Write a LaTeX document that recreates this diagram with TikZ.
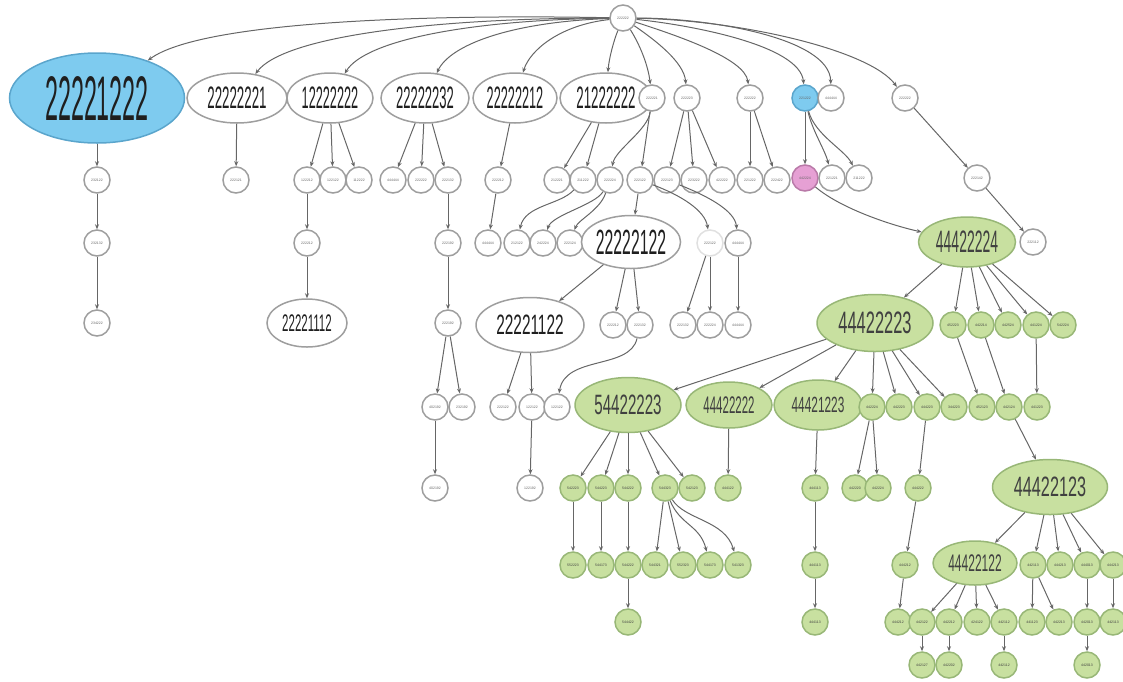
\documentclass[tikz,border=0pt]{standalone}
\usepackage{fontspec}
\setmainfont{Liberation Sans}
\usepackage{graphicx}
\usetikzlibrary{shapes.geometric,arrows.meta}
\definecolor{bluef}{HTML}{7ECBEF}
\definecolor{blued}{HTML}{5AA5CC}
\definecolor{grnf}{HTML}{C8E0A0}
\definecolor{grnd}{HTML}{98B777}
\definecolor{pinkf}{HTML}{E6A0D4}
\definecolor{pinkd}{HTML}{B97AA8}
\newcommand\bt[3]{\scalebox{#2}[1]{\fontsize{#1}{#1}\selectfont #3}}
\tikzset{
 edge/.style={draw=black!60, line width=1pt, -{Stealth[length=5pt,width=4pt]}},
 sm/.style={circle, draw=black!38, line width=1.5pt, minimum size=26pt, inner sep=0pt, fill=white, font=\fontsize{3.5}{3.5}\selectfont, text=black!60},
 el/.style={ellipse, draw=black!38, line width=1.5pt, inner sep=0pt, fill=white, text=black!88},
 gr/.style={fill=grnf, draw=grnd, text=black!75},
 bl/.style={fill=bluef, draw=blued},
 pk/.style={fill=pinkf, draw=pinkd},
 fd/.style={draw=black!12},
}
\begin{document}
\begin{tikzpicture}[x=1pt,y=-1pt]
\useasboundingbox (0,0) rectangle (1123,681);
% root and level 1
\node[sm] (R) at (623,18) {222222};
\node[el,bl,minimum width=175pt,minimum height=90pt] (A) at (97,98) {\bt{63}{0.37}{22221222}};
\node[el,minimum width=100pt,minimum height=50pt] (B) at (237,98) {\bt{31}{0.43}{22222221}};
\node[el,minimum width=86pt,minimum height=50pt] (C) at (330,98) {\bt{31}{0.41}{12222222}};
\node[el,minimum width=88pt,minimum height=50pt] (D) at (425,98) {\bt{31}{0.42}{22222232}};
\node[el,minimum width=84pt,minimum height=50pt] (E) at (515,98) {\bt{31}{0.41}{22222212}};
\node[el,minimum width=92pt,minimum height=50pt] (F) at (606,98) {\bt{31}{0.43}{21222222}};
\node[sm] (G) at (652,98) {222221};
\node[sm] (H) at (687,98) {222223};
\node[sm] (I) at (750,98) {222222};
\node[sm,bl] (J) at (805,98) {221222};
\node[sm] (K) at (831,98) {444444};
\node[sm] (L) at (905,98) {222222};
% level 2
\node[sm] (A1) at (97,180) {232122};
\node[sm] (B1) at (236,180) {222121};
\node[sm] (C1) at (307,180) {122212};
\node[sm] (C2) at (333,180) {122122};
\node[sm] (C3) at (359,180) {112222};
\node[sm] (D1) at (393,180) {444444};
\node[sm] (D2) at (421,180) {222222};
\node[sm] (D3) at (448,180) {222132};
\node[sm] (E1) at (498,180) {222212};
\node[sm] (F1) at (557,180) {212221};
\node[sm] (F2) at (583,180) {211222};
\node[sm] (G1) at (610,180) {222224};
\node[sm] (G2) at (640,180) {222122};
\node[sm] (H1) at (667,180) {222123};
\node[sm] (H2) at (694,180) {223222};
\node[sm] (H3) at (722,180) {422222};
\node[sm] (I1) at (750,180) {221222};
\node[sm] (I2) at (777,180) {222422};
\node[sm,pk] (J1) at (805,178) {442224};
\node[sm] (J2) at (832,178) {221221};
\node[sm] (J3) at (859,178) {211222};
\node[sm] (L1) at (977,178) {222142};
% level 3
\node[sm] (A2) at (97,243) {232132};
\node[sm] (C1a) at (307,243) {222212};
\node[sm] (D3a) at (448,243) {222192};
\node[sm] (E1a) at (488,243) {444444};
\node[sm] (F2a) at (517,243) {212122};
\node[sm] (G1a) at (543,243) {242224};
\node[sm] (G1b) at (570,243) {222124};
\node[el,minimum width=88pt,minimum height=53pt] (X) at (631,242) {\bt{35}{0.45}{22222122}};
\node[sm,fd] (G2b) at (710,243) {222122};
\node[sm] (H1a) at (738,243) {444444};
\node[el,gr,minimum width=97pt,minimum height=50pt] (M) at (967,242) {\bt{31}{0.45}{44422224}};
\node[sm] (L2) at (1033,242) {222112};
% level 4
\node[sm] (A3) at (97,323) {234222};
\node[el,minimum width=80pt,minimum height=48pt] (Z) at (307,323) {\bt{24}{0.48}{22221112}};
\node[sm] (D3b) at (448,323) {222192};
\node[el,minimum width=108pt,minimum height=55pt] (Y) at (530,325) {\bt{28}{0.55}{22221122}};
\node[sm] (X1) at (613,325) {222212};
\node[sm] (X2) at (640,325) {222132};
\node[sm] (Fa) at (683,325) {222132};
\node[sm] (Fb) at (710,325) {222224};
\node[sm] (H1b) at (738,325) {444444};
\node[el,gr,minimum width=116pt,minimum height=57pt] (N) at (875,323) {\bt{31}{0.53}{44422223}};
\node[sm,gr] (P1) at (953,325) {452223};
\node[sm,gr] (P2) at (981,325) {442214};
\node[sm,gr] (P3) at (1008,325) {442524};
\node[sm,gr] (P4) at (1036,325) {441224};
\node[sm,gr] (P5) at (1063,325) {542224};
% level 5
\node[sm] (D3c) at (435,407) {402192};
\node[sm] (D3d) at (462,407) {232192};
\node[sm] (Y1) at (503,407) {222122};
\node[sm] (Y2) at (532,407) {122122};
\node[sm] (X2a) at (557,407) {122122};
\node[el,gr,minimum width=106pt,minimum height=55pt] (S) at (628,405) {\bt{28}{0.54}{54422223}};
\node[el,gr,minimum width=86pt,minimum height=46pt] (T) at (729,405) {\bt{24}{0.48}{44422222}};
\node[el,gr,minimum width=88pt,minimum height=50pt] (U) at (818,405) {\bt{22}{0.54}{44421223}};
\node[sm,gr] (Q1) at (872,407) {442224};
\node[sm,gr] (Q2) at (899,407) {442223};
\node[sm,gr] (Q3) at (927,407) {444223};
\node[sm,gr] (Q4) at (954,407) {344223};
\node[sm,gr] (P1a) at (982,407) {452123};
\node[sm,gr] (P2a) at (1009,407) {442124};
\node[sm,gr] (P4a) at (1037,407) {441223};
% level 6
\node[sm] (D3e) at (435,488) {402192};
\node[sm] (Y2a) at (530,488) {122192};
\node[sm,gr] (S1) at (573,488) {542223};
\node[sm,gr] (S2) at (601,488) {544223};
\node[sm,gr] (S3) at (628,488) {544222};
\node[sm,gr] (S4) at (665,488) {544323};
\node[sm,gr] (S5) at (692,488) {542123};
\node[sm,gr] (T1) at (728,488) {444122};
\node[sm,gr] (U1) at (815,488) {444113};
\node[sm,gr] (Q1a) at (855,488) {442220};
\node[sm,gr] (Q1b) at (878,488) {442224};
\node[sm,gr] (Q3a) at (918,488) {444222};
\node[el,gr,minimum width=115pt,minimum height=55pt] (W) at (1050,487) {\bt{28}{0.58}{44422123}};
% level 7
\node[sm,gr] (S1a) at (573,565) {552223};
\node[sm,gr] (S2a) at (601,565) {544173};
\node[sm,gr] (S3a) at (628,565) {544222};
\node[sm,gr] (S4a) at (655,565) {544321};
\node[sm,gr] (S4b) at (683,565) {552323};
\node[sm,gr] (S4c) at (710,565) {544173};
\node[sm,gr] (S4d) at (738,565) {541323};
\node[sm,gr] (U1a) at (815,565) {444113};
\node[sm,gr] (Q3b) at (905,565) {444212};
\node[el,gr,minimum width=84pt,minimum height=44pt] (V) at (975,563) {\bt{24}{0.5}{44422122}};
\node[sm,gr] (V1) at (1033,565) {442113};
\node[sm,gr] (V2) at (1060,565) {444213};
\node[sm,gr] (V3) at (1087,565) {444013};
\node[sm,gr] (V4) at (1113,565) {444213};
% level 8
\node[sm,gr] (S3b) at (628,622) {544422};
\node[sm,gr] (U1b) at (815,622) {444113};
\node[sm,gr] (Q3c) at (898,622) {444212};
\node[sm,gr] (W1) at (922,622) {442122};
\node[sm,gr] (W2) at (949,622) {442212};
\node[sm,gr] (W3) at (977,622) {424122};
\node[sm,gr] (W4) at (1004,622) {442112};
\node[sm,gr] (V1a) at (1032,622) {441123};
\node[sm,gr] (V1b) at (1059,622) {442213};
\node[sm,gr] (V3a) at (1087,622) {442013};
\node[sm,gr] (V4a) at (1113,622) {442113};
% level 9
\node[sm,gr] (W1a) at (922,665) {442127};
\node[sm,gr] (W2a) at (949,665) {442202};
\node[sm,gr] (W4a) at (1004,665) {442112};
\node[sm,gr] (V3b) at (1087,665) {442013};
% root edges
\draw[edge] (R) .. controls (420,14) and (200,22) .. (A);
\draw[edge] (R) .. controls (440,18) and (285,35) .. (B);
\draw[edge] (R) .. controls (470,20) and (365,40) .. (C);
\draw[edge] (R) .. controls (510,22) and (450,45) .. (D);
\draw[edge] (R) .. controls (560,25) and (530,50) .. (E);
\draw[edge] (R) .. controls (614,40) and (609,58) .. (F);
\draw[edge] (R) .. controls (640,45) and (648,65) .. (G);
\draw[edge] (R) .. controls (655,40) and (684,62) .. (H);
\draw[edge] (R) .. controls (675,35) and (745,58) .. (I);
\draw[edge] (R) .. controls (690,25) and (800,45) .. (J);
\draw[edge] (R) .. controls (710,18) and (830,38) .. (K);
\draw[edge] (R) .. controls (740,20) and (870,50) .. (L);
% level 1 -> 2
\draw[edge] (A) -- (A1);
\draw[edge] (B) -- (B1);
\draw[edge] (C) -- (C1); \draw[edge] (C) -- (C2); \draw[edge] (C) -- (C3);
\draw[edge] (D) -- (D1); \draw[edge] (D) -- (D2); \draw[edge] (D) -- (D3);
\draw[edge] (E) -- (E1);
\draw[edge] (F) -- (F1); \draw[edge] (F) -- (F2);
\draw[edge] (G) .. controls (648,130) and (615,150) .. (G1);
\draw[edge] (G) -- (G2);
\draw[edge] (H) -- (H1); \draw[edge] (H) -- (H2); \draw[edge] (H) -- (H3);
\draw[edge] (I) -- (I1); \draw[edge] (I) -- (I2);
\draw[edge] (J) -- (J1);
\draw[edge] (J) .. controls (812,130) and (825,150) .. (J2);
\draw[edge] (J) .. controls (815,135) and (845,150) .. (J3);
\draw[edge] (L) -- (L1);
% level 2 -> 3
\draw[edge] (A1) -- (A2);
\draw[edge] (C1) -- (C1a);
\draw[edge] (D3) -- (D3a);
\draw[edge] (E1) -- (E1a);
\draw[edge] (F2) .. controls (560,205) and (525,205) .. (F2a);
\draw[edge] (G1) .. controls (595,205) and (552,215) .. (G1a);
\draw[edge] (G1) .. controls (600,210) and (578,220) .. (G1b);
\draw[edge] (G2) -- (X);
\draw[edge] (G2) .. controls (680,195) and (705,210) .. (G2b);
\draw[edge] (H1) .. controls (705,195) and (735,210) .. (H1a);
\draw[edge] (J1) .. controls (840,208) and (890,225) .. (M);
\draw[edge] (L1) -- (L2);
% level 3 -> 4
\draw[edge] (A2) -- (A3);
\draw[edge] (C1a) -- (Z);
\draw[edge] (D3a) -- (D3b);
\draw[edge] (X) -- (Y);
\draw[edge] (X) -- (X1);
\draw[edge] (X) -- (X2);
\draw[edge] (G2b) -- (Fa);
\draw[edge] (G2b) -- (Fb);
\draw[edge] (H1a) -- (H1b);
\draw[edge] (M) -- (N);
\draw[edge] (M) -- (P1); \draw[edge] (M) -- (P2); \draw[edge] (M) -- (P3);
\draw[edge] (M) -- (P4); \draw[edge] (M) -- (P5);
% level 4 -> 5
\draw[edge] (D3b) -- (D3c); \draw[edge] (D3b) -- (D3d);
\draw[edge] (Y) -- (Y1); \draw[edge] (Y) -- (Y2);
\draw[edge] (X2) .. controls (630,370) and (565,355) .. (X2a);
\draw[edge] (N) -- (S);
\draw[edge] (N) -- (T);
\draw[edge] (N) -- (U);
\draw[edge] (N) -- (Q1); \draw[edge] (N) -- (Q2);
\draw[edge] (N) -- (Q3); \draw[edge] (N) -- (Q4);
\draw[edge] (P1) -- (P1a);
\draw[edge] (P2) -- (P2a);
\draw[edge] (P4) -- (P4a);
% level 5 -> 6
\draw[edge] (D3c) -- (D3e);
\draw[edge] (Y2) -- (Y2a);
\draw[edge] (S) -- (S1); \draw[edge] (S) -- (S2); \draw[edge] (S) -- (S3);
\draw[edge] (S) -- (S4); \draw[edge] (S) -- (S5);
\draw[edge] (T) -- (T1);
\draw[edge] (U) -- (U1);
\draw[edge] (Q1) -- (Q1a); \draw[edge] (Q1) -- (Q1b);
\draw[edge] (Q3) -- (Q3a);
\draw[edge] (P2a) -- (W);
% level 6 -> 7
\draw[edge] (S1) -- (S1a);
\draw[edge] (S2) -- (S2a);
\draw[edge] (S3) -- (S3a);
\draw[edge] (S4) -- (S4a);
\draw[edge] (S4) -- (S4b);
\draw[edge] (S4) .. controls (680,525) and (700,525) .. (S4c);
\draw[edge] (S4) .. controls (685,520) and (725,520) .. (S4d);
\draw[edge] (U1) -- (U1a);
\draw[edge] (Q3a) -- (Q3b);
\draw[edge] (W) -- (V);
\draw[edge] (W) -- (V1); \draw[edge] (W) -- (V2);
\draw[edge] (W) -- (V3); \draw[edge] (W) -- (V4);
% level 7 -> 8
\draw[edge] (S3a) -- (S3b);
\draw[edge] (U1a) -- (U1b);
\draw[edge] (Q3b) -- (Q3c);
\draw[edge] (V) -- (W1); \draw[edge] (V) -- (W2);
\draw[edge] (V) -- (W3); \draw[edge] (V) -- (W4);
\draw[edge] (V1) -- (V1a); \draw[edge] (V1) -- (V1b);
\draw[edge] (V3) -- (V3a);
\draw[edge] (V4) -- (V4a);
% level 8 -> 9
\draw[edge] (W1) -- (W1a);
\draw[edge] (W2) -- (W2a);
\draw[edge] (W4) -- (W4a);
\draw[edge] (V3a) -- (V3b);
\end{tikzpicture}
\end{document}
